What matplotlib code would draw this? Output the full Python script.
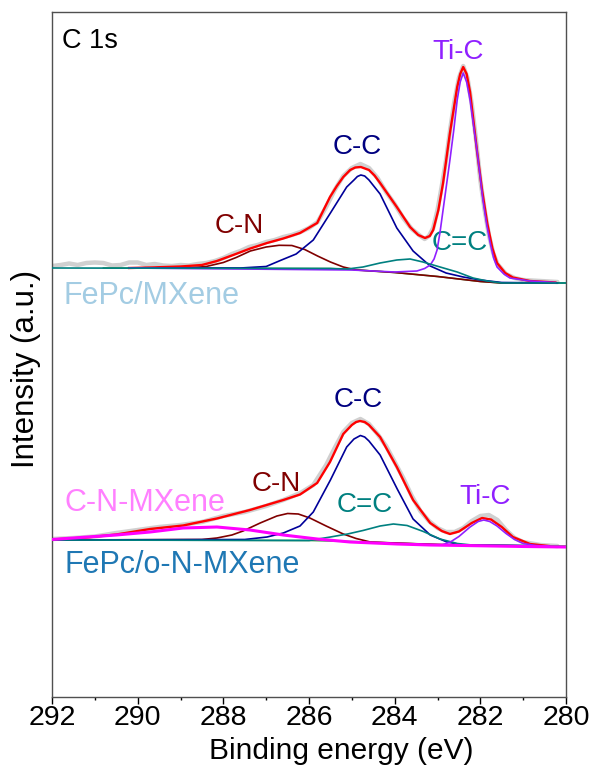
import numpy as np
import matplotlib
matplotlib.use("Agg")
import matplotlib.pyplot as plt
from matplotlib.ticker import MultipleLocator

# ---- FePc/MXene (upper spectrum), binding energy (eV) / intensity (a.u.)
raw1_ev = [292, 291.8, 291.6, 291.4, 291.2, 291.0, 290.8, 290.6, 290.4, 290.2, 290.0, 289.8, 289.6,
           289.4, 289.2, 289.0, 288.8, 288.6, 288.4, 288.2, 288.0, 287.8, 287.6, 287.4, 287.2, 287.0,
           286.8, 286.6, 286.4, 286.2, 286.0, 285.8, 285.6, 285.4, 285.2, 285.0, 284.8, 284.6, 284.4,
           284.2, 284.0, 283.8, 283.6, 283.4, 283.3, 283.2, 283.1, 283.0, 282.9, 282.8, 282.7, 282.6,
           282.5, 282.4, 282.3, 282.2, 282.1, 282.0, 281.9, 281.8, 281.7, 281.6, 281.4, 281.2, 281.0,
           280.6, 280.2]
raw1_int = [431, 432, 433.5, 432, 434, 434.5, 434, 431.5, 432, 434.5, 434.5, 432, 433,
            431.5, 431, 432, 431.5, 433, 434, 436, 439, 443, 446, 450, 452, 455,
            457, 460, 462, 465, 469, 475, 490, 507, 521, 529, 533, 529, 519,
            505, 493, 479, 468, 461, 458, 461, 469, 487, 511, 537, 569, 597,
            619, 631, 619, 593, 557, 517, 487, 462, 444, 433, 423, 419, 417,
            416, 415]

fit1_ev = [290.2, 289.7, 289.0, 288.5, 288.15, 287.77, 287.37, 286.98, 286.6, 286.21, 285.81, 285.51,
           285.35, 285.2, 285.04, 284.92, 284.79, 284.6, 284.47, 284.34, 283.95, 283.64, 283.45,
           283.29, 283.18, 283.1, 282.98, 282.87, 282.71, 282.54, 282.47, 282.4, 282.32, 282.24,
           282.08, 281.96, 281.84, 281.72, 281.61, 281.42, 281.24, 280.84, 280.25]
fit1_int = [429, 429.5, 430.5, 432, 436, 442, 448.5, 454, 458.5, 464, 474, 500,
            511, 520, 527, 529.5, 530, 527, 521.5, 514, 490, 470, 462,
            459, 461, 467, 487, 514, 564, 610, 623, 630, 623, 605,
            547, 507, 474, 449, 434, 424, 419.5, 416, 414.5]

cc1_ev = [290.2, 287.6, 287.0, 286.67, 286.3, 285.9, 285.5, 285.12, 284.95, 284.87, 284.79, 284.7,
          284.6, 284.34, 283.95, 283.57, 283.17, 282.8, 282.4, 282.0, 281.5, 280.2]
cc1_int = [429, 429, 430.5, 436.5, 443, 457, 484, 510, 517, 520.5, 522, 521,
           517, 503, 469, 446, 431, 424, 420, 417, 414.5, 414]

cn1_ev = [290.2, 288.8, 288.4, 288.0, 287.7, 287.37, 287.0, 286.7, 286.4, 286.1, 285.8, 285.5,
          285.2, 284.9, 284.0, 283.0, 282.0, 281.5, 280.2]
cn1_int = [429, 429, 430.5, 434.5, 439.5, 446, 450, 451.7, 451.5, 447.5, 441, 435,
           430, 427, 424.5, 420.5, 415.5, 414, 414]

ccd1_ev = [292, 285.5, 285.1, 284.74, 284.34, 283.95, 283.64, 283.34, 282.94, 282.54, 282.17,
           281.84, 281.5, 280]
ccd1_int = [429, 428.5, 428, 430, 434, 437, 438, 435, 430, 425, 419, 416, 414, 414]

tic1_ev = [290.2, 285.0, 284.0, 283.48, 283.3, 283.17, 283.08, 283.01, 282.94, 282.87, 282.79,
           282.71, 282.62, 282.54, 282.47, 282.4, 282.32, 282.24, 282.16, 282.08, 282.0, 281.94,
           281.85, 281.77, 281.69, 281.61, 281.45, 281.31, 280.84, 280.25]
tic1_int = [429, 427, 425, 426, 428.5, 432, 438, 447, 465, 487, 512,
            537, 567, 597, 615, 624, 615, 597, 572, 547, 519, 497,
            472, 454, 439, 430, 423, 419, 416, 414.5]

bg1_ev = [290.8, 285.5, 285.0, 284.5, 284.0, 283.5, 283.0, 282.5, 282.0, 281.5, 280.0]
bg1_int = [429, 428.5, 427.5, 426, 424.5, 422.5, 420.5, 418, 415.5, 414, 414]

# ---- FePc/o-N-MXene (lower spectrum)
raw2_ev = [292, 291.5, 291, 290.5, 290, 289.5, 289, 288.5, 288, 287.5, 287, 286.6, 286.2, 285.9,
           285.6, 285.4, 285.2, 285.0, 284.8, 284.6, 284.4, 284.2, 284.0, 283.8, 283.6, 283.4,
           283.2, 283.0, 282.8, 282.6, 282.4, 282.2, 282.0, 281.8, 281.6, 281.4, 281.2, 281.0,
           280.6, 280.2]
raw2_int = [158, 159, 160.5, 164, 167, 170, 172, 175, 181, 185, 191, 197, 204, 212,
            232, 249, 265, 274, 278, 273, 263, 251, 235, 219, 201, 186,
            176, 169, 165, 165, 169, 176, 181, 182, 177, 167, 159, 155,
            152, 151]

fit2_ev = [292, 291.2, 290.5, 289.71, 288.94, 288.15, 287.38, 286.6, 286.21, 285.81, 285.51, 285.2,
           285.0, 284.9, 284.81, 284.7, 284.6, 284.34, 283.95, 283.57, 283.17, 282.9, 282.71, 282.5,
           282.2, 281.96, 281.75, 281.5, 281.24, 280.84, 280.4]
fit2_int = [157.5, 159.5, 162.5, 168, 171.5, 178.5, 187, 197, 202.5, 214, 235, 263,
            272, 275, 276, 275, 272, 260, 230, 197, 174, 166, 163, 165.5,
            174, 179, 177.5, 170, 160, 153, 151]

cc2_ev = [292, 287.5, 286.98, 286.6, 286.21, 285.9, 285.5, 285.12, 284.95, 284.8, 284.7, 284.6,
          284.34, 283.94, 283.57, 283.17, 282.78, 282.4, 280.4]
cc2_int = [157, 157.5, 160, 164, 171, 185, 217, 250, 258, 261.5, 260, 256,
           242, 208, 178, 162, 155, 152, 151]

cn2_ev = [292, 288.5, 288.15, 287.8, 287.54, 287.14, 286.75, 286.5, 286.25, 285.98, 285.6, 285.2,
          284.9, 284.57, 284.0, 283.0, 282.0, 280.4]
cn2_int = [157, 157.5, 159, 162, 166, 174, 181, 183.5, 183, 179, 171, 163,
           158.5, 155, 154, 152.5, 151.5, 151]

ccd2_ev = [292, 286.0, 285.5, 285.1, 284.74, 284.34, 284.03, 283.71, 283.33, 282.94, 282.54,
           282.2, 280.4]
ccd2_int = [157, 156.5, 160, 163, 166.5, 171, 173, 171.5, 165.5, 158, 153.5, 152, 151]

tic2_ev = [283.5, 282.9, 282.7, 282.5, 282.24, 282.05, 281.92, 281.78, 281.61, 281.4, 281.2,
           281.0, 280.7, 280.4]
tic2_int = [152.5, 152, 155, 160.5, 170, 175.5, 177, 175.5, 171, 163.5, 157.5, 153.5, 151.5, 151]

cnmx2_ev = [292, 290.5, 289.71, 288.94, 288.15, 287.38, 286.6, 285.81, 285.04, 283.94, 283.17,
            282.4, 281.0, 280.0]
cnmx2_int = [157.5, 162, 165, 169, 170, 167, 162, 158, 155, 153, 152, 151.5, 150.5, 150]

bg2_ev = [292, 286, 285, 284, 283, 282.5, 280]
bg2_int = [157, 156.5, 155.5, 154, 152.5, 152, 151]

x_ticks = [292, 290, 288, 286, 284, 282, 280]

RAW = '#d0d0d0'
FIT = '#ff0000'
CC = '#000099'
CN = '#800000'
CCD = '#008080'
TIC = '#9020ff'
CNMX = '#ff00ff'
BG = '#2e9a3a'


def setup_style():
    plt.rcParams['font.family'] = ['Liberation Sans', 'DejaVu Sans']
    plt.rc('axes', edgecolor='#505050', linewidth=1.0)
    plt.rc('xtick', direction='out', color='black')


def draw_spectrum(ax, raw, fit, comps, bg):
    ax.plot(raw[0], raw[1], color=RAW, lw=3.2, solid_capstyle='round', zorder=1)
    ax.plot(bg[0], bg[1], color=BG, lw=1.1, zorder=2)
    ax.plot(fit[0], fit[1], color=FIT, lw=1.7, zorder=3)
    for ev, inten, col, lw in comps:
        ax.plot(ev, inten, color=col, lw=lw, zorder=4)


def main():
    setup_style()
    fig = plt.figure(figsize=(5.94, 7.71), dpi=100)
    ax = fig.add_axes([52 / 594, 1 - 697 / 771, 514 / 594, 685 / 771])

    draw_spectrum(ax, (raw1_ev, raw1_int), (fit1_ev, fit1_int),
                  [(cn1_ev, cn1_int, CN, 1.2), (cc1_ev, cc1_int, CC, 1.2),
                   (tic1_ev, tic1_int, TIC, 1.2), (ccd1_ev, ccd1_int, CCD, 1.2)],
                  (bg1_ev, bg1_int))
    draw_spectrum(ax, (raw2_ev, raw2_int), (fit2_ev, fit2_int),
                  [(cn2_ev, cn2_int, CN, 1.2), (cc2_ev, cc2_int, CC, 1.2),
                   (ccd2_ev, ccd2_int, CCD, 1.2), (tic2_ev, tic2_int, TIC, 1.2),
                   (cnmx2_ev, cnmx2_int, CNMX, 2.2)],
                  (bg2_ev, bg2_int))

    ax.set_xlim(292, 280)
    ax.set_ylim(0, 685)
    ax.set_xticks(x_ticks)
    ax.xaxis.set_minor_locator(MultipleLocator(1))
    ax.set_yticks([])
    ax.tick_params(axis='x', which='major', length=5, width=1, labelsize=20.5, pad=1)
    ax.tick_params(axis='x', which='minor', length=2.5, width=1)

    ax.set_xlabel('Binding energy (eV)', fontsize=21.5)
    ax.xaxis.set_label_coords(0.562, -0.059)
    ax.set_ylabel('Intensity (a.u.)', fontsize=22.5, va='center')
    ax.yaxis.set_label_coords(-0.0506, 0.479)

    ax.text(0.02, 0.977, 'C 1s', transform=ax.transAxes, fontsize=19.5, ha='left', va='top')

    # peak labels, upper spectrum
    ax.text(282.52, 645, 'Ti-C', color=TIC, fontsize=20, ha='center', va='center')
    ax.text(284.88, 550, 'C-C', color='#000080', fontsize=20, ha='center', va='center')
    ax.text(282.47, 454, 'C=C', color=CCD, fontsize=20, ha='center', va='center')
    ax.text(287.63, 471, 'C-N', color=CN, fontsize=20, ha='center', va='center')
    ax.text(291.74, 401, 'FePc/MXene', color='#a3cce3', fontsize=22, ha='left', va='center')

    # peak labels, lower spectrum
    ax.text(284.86, 297, 'C-C', color='#000080', fontsize=20, ha='center', va='center')
    ax.text(286.77, 213, 'C-N', color=CN, fontsize=20, ha='center', va='center')
    ax.text(284.69, 192, 'C=C', color=CCD, fontsize=20, ha='center', va='center')
    ax.text(281.88, 200, 'Ti-C', color=TIC, fontsize=20, ha='center', va='center')
    ax.text(291.7, 194, 'C-N-MXene', color='#ff80ff', fontsize=22, ha='left', va='center')
    ax.text(291.7, 132, 'FePc/o-N-MXene', color='#1f78b4', fontsize=22, ha='left', va='center')

    fig.savefig('out.png', dpi=100)
    plt.close(fig)


if __name__ == '__main__':
    main()
